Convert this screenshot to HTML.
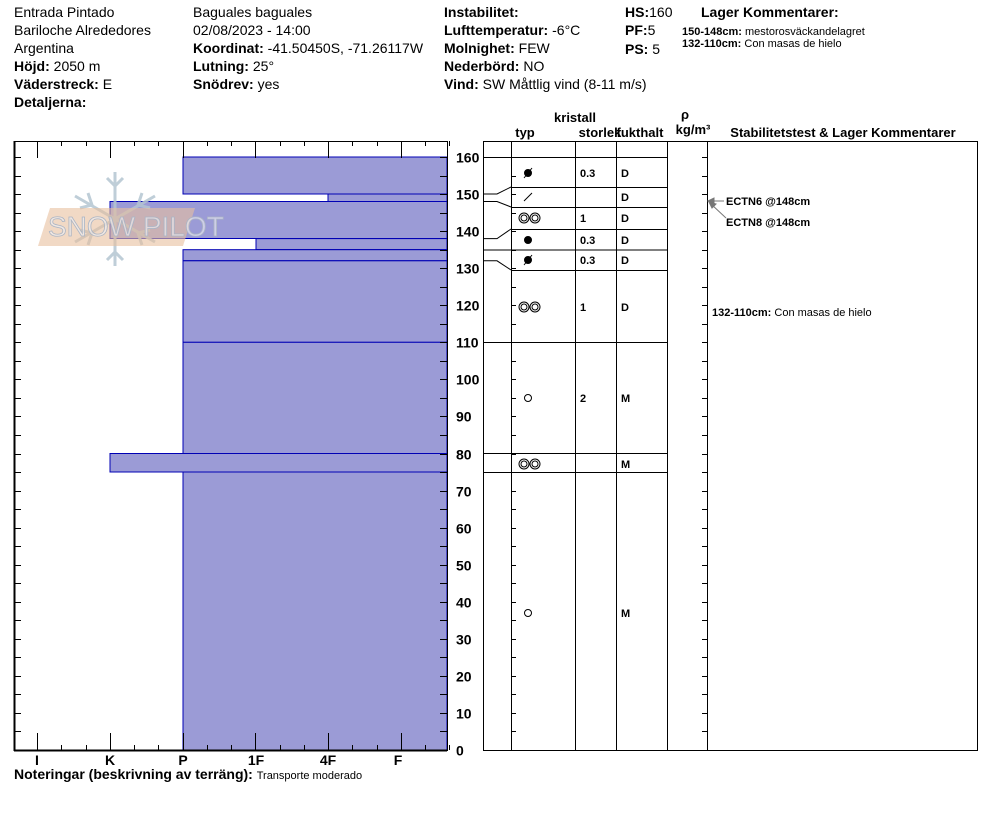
<!DOCTYPE html>
<html><head><meta charset="utf-8"><style>
body{margin:0;background:#fff;}
svg{display:block;font-family:"Liberation Sans",Arial,sans-serif;}
</style></head><body>
<svg width="994" height="840" viewBox="0 0 994 840" xmlns="http://www.w3.org/2000/svg">
<g font-size="14" fill="#000">
<text x="14" y="17">Entrada Pintado</text>
<text x="14" y="35">Bariloche Alrededores</text>
<text x="14" y="53">Argentina</text>
<text x="14" y="71"><tspan font-weight="bold">Höjd:</tspan> 2050 m</text>
<text x="14" y="89"><tspan font-weight="bold">Väderstreck:</tspan> E</text>
<text x="14" y="107" font-weight="bold">Detaljerna:</text>
<text x="193" y="17">Baguales baguales</text>
<text x="193" y="35">02/08/2023 - 14:00</text>
<text x="193" y="53"><tspan font-weight="bold">Koordinat:</tspan> -41.50450S, -71.26117W</text>
<text x="193" y="71"><tspan font-weight="bold">Lutning:</tspan> 25°</text>
<text x="193" y="89"><tspan font-weight="bold">Snödrev:</tspan> yes</text>
<text x="444" y="17" font-weight="bold">Instabilitet:</text>
<text x="444" y="35"><tspan font-weight="bold">Lufttemperatur:</tspan> -6°C</text>
<text x="444" y="53"><tspan font-weight="bold">Molnighet:</tspan> FEW</text>
<text x="444" y="71"><tspan font-weight="bold">Nederbörd:</tspan> NO</text>
<text x="444" y="89"><tspan font-weight="bold">Vind:</tspan>  SW  Måttlig vind (8-11 m/s)</text>
<text x="625" y="17"><tspan font-weight="bold">HS:</tspan>160</text>
<text x="625" y="35"><tspan font-weight="bold">PF:</tspan>5</text>
<text x="625" y="54"><tspan font-weight="bold">PS:</tspan> 5</text>
<text x="701" y="17" font-weight="bold">Lager Kommentarer:</text>
</g>
<g font-size="11">
<text x="682" y="35"><tspan font-weight="bold">150-148cm:</tspan> mestorosväckandelagret</text>
<text x="682" y="47"><tspan font-weight="bold">132-110cm:</tspan>  Con masas de hielo</text>
</g>
<!-- layers -->
<g fill="#9b9bd6" stroke="#0000b4" stroke-width="1">
<rect x="183" y="157" width="264" height="37"/>
<rect x="328" y="194" width="119" height="7.5"/>
<rect x="110" y="201.5" width="337" height="37"/>
<rect x="256" y="238.6" width="191" height="11"/>
<rect x="183" y="249.7" width="264" height="11"/>
<rect x="183" y="260.8" width="264" height="81.5"/>
<rect x="183" y="342.3" width="264" height="111.2"/>
<rect x="110" y="453.5" width="337" height="18.5"/>
<rect x="183" y="472" width="264" height="278"/>
</g>
<!-- snowflake watermark -->
<g stroke="#b4c6d2" stroke-width="3" fill="none" opacity="0.85">
<line x1="115" y1="172" x2="115" y2="266"/>
<line x1="75" y1="196" x2="155" y2="242"/>
<line x1="75" y1="242" x2="155" y2="196"/>
<polyline points="107,178 115,186 123,178"/>
<polyline points="107,260 115,252 123,260"/>
<polyline points="80,208 92,205 88,193"/>
<polyline points="150,230 138,233 142,245"/>
<polyline points="80,230 92,233 88,245"/>
<polyline points="150,208 138,205 142,193"/>
</g>
<polygon points="38,246 50,208 195,208 183,246" fill="#e8bf9f" opacity="0.6"/>
<text x="48" y="236" font-size="28" fill="#f0f0f4" fill-opacity="0.6" stroke="#aab4c4" stroke-width="0.8" letter-spacing="0">SNOW PILOT</text>
<!-- axes -->
<g stroke="#000" fill="none">
<line x1="14.5" y1="141" x2="14.5" y2="751" stroke-width="2"/>
<line x1="14" y1="750.5" x2="447" y2="750.5" stroke-width="2"/>
<line x1="14" y1="141.5" x2="447" y2="141.5"/>
<line x1="447.5" y1="141" x2="447.5" y2="751"/>
</g>
<g id="ticks" stroke="#000"></g>
<g font-size="14" font-weight="bold" text-anchor="middle">
<text x="37" y="765">I</text><text x="110" y="765">K</text><text x="183" y="765">P</text>
<text x="256" y="765">1F</text><text x="328" y="765">4F</text><text x="398" y="765">F</text>
</g>
<g font-size="14" font-weight="bold" id="ylab"></g>
<text x="14" y="779" font-size="14" font-weight="bold">Noteringar (beskrivning av terräng): <tspan font-size="11" font-weight="normal">Transporte moderado</tspan></text>
<!-- right table -->
<g font-size="13" font-weight="bold" text-anchor="middle">
<text x="575" y="122">kristall</text>
<text x="525" y="137">typ</text>
<text x="600" y="137">storlek</text>
<text x="640" y="137">fukthalt</text>
<text x="685" y="119">ρ</text>
<text x="693" y="134">kg/m³</text>
<text x="843" y="137">Stabilitetstest &amp; Lager Kommentarer</text>
</g>
<g stroke="#000" fill="none">
<rect x="483.5" y="141.5" width="494" height="609"/>
<line x1="511.5" y1="141" x2="511.5" y2="750"/>
<line x1="575.5" y1="141" x2="575.5" y2="750"/>
<line x1="616.5" y1="141" x2="616.5" y2="750"/>
<line x1="667.5" y1="141" x2="667.5" y2="750"/>
<line x1="707.5" y1="141" x2="707.5" y2="750"/>
<g stroke-width="1">
<line x1="483" y1="157.5" x2="667" y2="157.5"/>
<line x1="511" y1="187.5" x2="667" y2="187.5"/>
<line x1="511" y1="207.5" x2="667" y2="207.5"/>
<line x1="511" y1="229.5" x2="667" y2="229.5"/>
<line x1="483" y1="250" x2="667" y2="250"/>
<line x1="511" y1="270.5" x2="667" y2="270.5"/>
<line x1="483" y1="342.5" x2="667" y2="342.5"/>
<line x1="483" y1="453.5" x2="667" y2="453.5"/>
<line x1="483" y1="472.5" x2="667" y2="472.5"/>
<polyline points="483,194 497,194 511,187"/>
<polyline points="483,201.5 497,201.5 511,207"/>
<polyline points="483,238.6 497,238.6 511,229"/>
<polyline points="483,260.8 497,260.8 511,270"/>
</g>
</g>
<g font-size="11" font-weight="bold">
<text x="580" y="177">0.3</text><text x="621" y="177">D</text>
<text x="621" y="201">D</text>
<text x="580" y="222">1</text><text x="621" y="222">D</text>
<text x="580" y="244">0.3</text><text x="621" y="244">D</text>
<text x="580" y="264">0.3</text><text x="621" y="264">D</text>
<text x="580" y="311">1</text><text x="621" y="311">D</text>
<text x="580" y="402">2</text><text x="621" y="402">M</text>
<text x="621" y="468">M</text>
<text x="621" y="617">M</text>
</g>
<!-- icons -->
<g stroke="#000" fill="none">
<circle cx="528" cy="173" r="3.5" fill="#000"/><line x1="524" y1="178" x2="532" y2="168"/>
<line x1="524" y1="201" x2="532" y2="193"/>
<circle cx="524" cy="218" r="5"/><circle cx="524" cy="218" r="3"/><circle cx="535" cy="218" r="5"/><circle cx="535" cy="218" r="3"/>
<circle cx="528" cy="240" r="3.5" fill="#000"/>
<circle cx="528" cy="260" r="3.5" fill="#000"/><line x1="524" y1="265" x2="532" y2="255"/>
<circle cx="524" cy="307" r="5"/><circle cx="524" cy="307" r="3"/><circle cx="535" cy="307" r="5"/><circle cx="535" cy="307" r="3"/>
<circle cx="528" cy="398" r="3.5"/>
<circle cx="524" cy="464" r="5"/><circle cx="524" cy="464" r="3"/><circle cx="535" cy="464" r="5"/><circle cx="535" cy="464" r="3"/>
<circle cx="528" cy="613" r="3.5"/>
</g>
<g stroke="#777" fill="#777">
<line x1="710" y1="201" x2="724" y2="201"/><polygon points="708,201 714,198 714,204"/>
<line x1="711" y1="204" x2="726" y2="218"/><polygon points="709,202 716,204 712,208"/>
</g>
<g font-size="11" font-weight="bold">
<text x="726" y="205">ECTN6 @148cm</text>
<text x="726" y="226">ECTN8 @148cm</text>
<text x="712" y="316">132-110cm: <tspan font-weight="normal">Con masas de hielo</tspan></text>
</g>
<g id="tt" stroke="#000"></g>
<script>
var ns="http://www.w3.org/2000/svg",t=document.getElementById("ticks"),yl=document.getElementById("ylab"),tt=document.getElementById("tt");
function L(g,a,b,c,d){var l=document.createElementNS(ns,"line");l.setAttribute("x1",a);l.setAttribute("y1",b);l.setAttribute("x2",c);l.setAttribute("y2",d);g.appendChild(l);}
for(var cm=0;cm<=160;cm+=5){var y=Math.round(750-cm*3.706)+0.5;
L(t,14,y,21,y);L(t,447,y,440,y);L(tt,511,y,516,y);L(tt,707,y,702,y);
if(cm%10==0){var e=document.createElementNS(ns,"text");e.setAttribute("x",456);e.setAttribute("y",y+5);e.textContent=cm;yl.appendChild(e);}}
for(var i=0;i<18;i++){var x=Math.round(37+i*24.25)+0.5;var maj=(i%3==0);
L(t,x,750,x,maj?733:745);L(t,x,141,x,maj?158:146);}
</script>
</svg>
</body></html>
